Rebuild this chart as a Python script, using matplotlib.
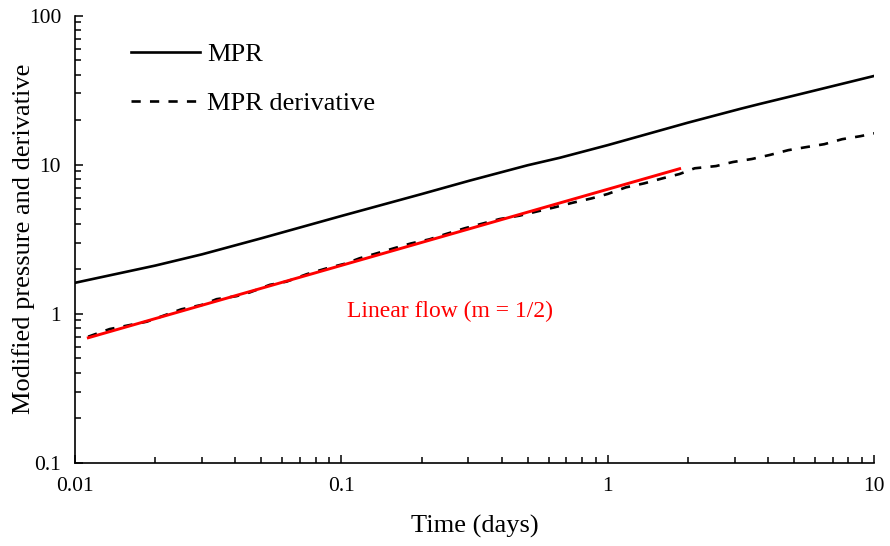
import numpy as np
import matplotlib.pyplot as plt
from matplotlib.ticker import NullFormatter, LogLocator

plt.rcParams['font.family'] = ['Liberation Serif', 'DejaVu Serif']

# MPR curve
mpr_t = [0.01, 0.02, 0.03, 0.05, 0.1, 0.2, 0.303, 0.5, 0.66, 1, 2, 3.16, 3.72, 5, 10]
mpr_p = [1.61, 2.1, 2.5, 3.2, 4.52, 6.34, 7.8, 9.89, 11.1, 13.5, 19.1, 23.7, 25.5, 29.0, 39.3]

# MPR derivative
der_t = [0.0112, 0.0135, 0.0186, 0.0251, 0.0303, 0.034, 0.0404, 0.0454, 0.0539, 0.0623,
         0.0742, 0.0878, 0.104, 0.117, 0.136, 0.157, 0.183, 0.214, 0.247, 0.291,
         0.393, 0.466, 0.539, 0.63, 0.74, 0.87, 1.0, 1.17, 1.37, 1.61, 1.86, 2.12,
         2.55, 2.95, 3.48, 4.06, 4.77, 5.57, 6.5, 7.59, 8.88, 10.0]
der_p = [0.70, 0.788, 0.883, 1.07, 1.15, 1.25, 1.31, 1.39, 1.56, 1.64,
         1.84, 2.01, 2.17, 2.35, 2.54, 2.74, 2.96, 3.15, 3.42, 3.74,
         4.31, 4.54, 4.83, 5.16, 5.55, 5.93, 6.35, 7.03, 7.48, 8.09, 8.64, 9.44,
         9.77, 10.4, 10.9, 11.6, 12.5, 13.1, 13.7, 14.8, 15.5, 16.2]

# half-slope line
lin_t = [0.01122, 1.862]
lin_p = [0.689, 9.38]

xticks = [0.01, 0.1, 1, 10]
xtick_labels = ['0.01', '0.1', '1', '10']
yticks = [0.1, 1, 10, 100]
ytick_labels = ['0.1', '1', '10', '100']

fig = plt.figure(figsize=(8.9, 5.46), dpi=100)
ax = fig.add_axes([0.0843, 0.1526, 0.8978, 0.819])

ax.plot(mpr_t, mpr_p, color='black', lw=1.9, label='MPR')
ax.plot(der_t, der_p, color='black', lw=1.9, linestyle=(0, (3.5, 3.5)), label='MPR derivative')
ax.plot(lin_t, lin_p, color='red', lw=2.1)

ax.set_xscale('log')
ax.set_yscale('log')
ax.set_xlim(0.01, 10)
ax.set_ylim(0.1, 100)

ax.set_xticks(xticks, xtick_labels)
ax.set_yticks(yticks, ytick_labels)
ax.xaxis.set_minor_locator(LogLocator(base=10, subs=np.arange(2, 10)))
ax.yaxis.set_minor_locator(LogLocator(base=10, subs=np.arange(2, 10)))
ax.xaxis.set_minor_formatter(NullFormatter())
ax.yaxis.set_minor_formatter(NullFormatter())

ax.tick_params(which='major', direction='in', length=6, width=1.1, labelsize=15.5, pad=10)
ax.tick_params(which='minor', direction='in', length=4, width=1.1)

for s in ['top', 'right']:
    ax.spines[s].set_visible(False)
for s in ['left', 'bottom']:
    ax.spines[s].set_linewidth(1.2)

ax.set_xlabel('Time (days)', fontsize=19, labelpad=14)
ax.set_ylabel('Modified pressure and derivative', fontsize=19)
ax.yaxis.set_label_coords(-0.05, 0.5)

ax.text(0.34, 0.338, 'Linear flow (m = 1/2)', color='red', fontsize=17,
        ha='left', va='center', transform=ax.transAxes)

ax.legend(loc='upper left', bbox_to_anchor=(0.07, 0.939), frameon=False, fontsize=19,
          handlelength=2.6, handletextpad=0.3, labelspacing=0.96,
          borderpad=0, borderaxespad=0)

fig.savefig('out.png', dpi=100)
